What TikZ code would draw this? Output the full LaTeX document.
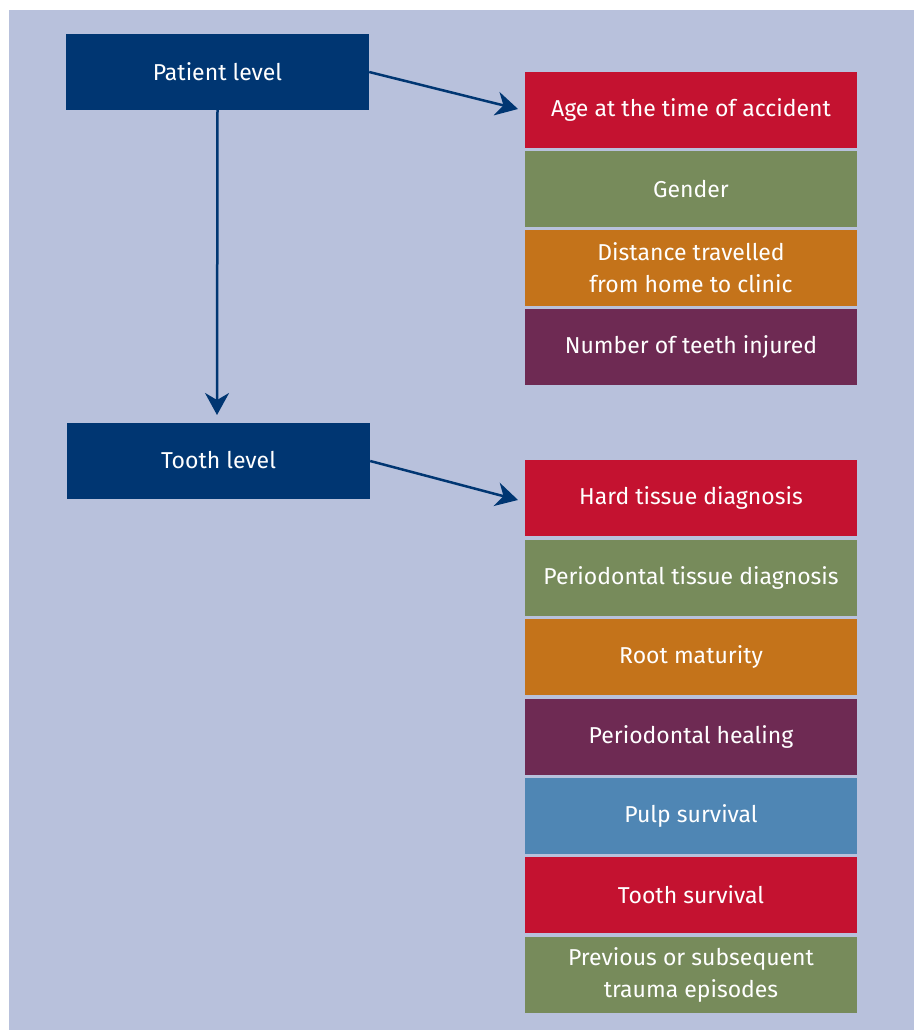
\documentclass[tikz,border=0pt]{standalone}
\usepackage{fontspec}
\setmainfont{Fira Sans}
\usetikzlibrary{arrows.meta}
\definecolor{bgc}{HTML}{B8C1DC}
\definecolor{navy}{HTML}{003672}
\definecolor{cred}{HTML}{C41230}
\definecolor{cgreen}{HTML}{778B5B}
\definecolor{corange}{HTML}{C4731A}
\definecolor{cpurple}{HTML}{6E2A53}
\definecolor{cblue}{HTML}{4F86B4}
\begin{document}
\begin{tikzpicture}[x=1pt,y=-1pt,
  lvl/.style={fill=navy,text=white,minimum width=303pt,minimum height=76pt,inner sep=0pt,font=\fontsize{23}{30}\selectfont},
  item/.style={fill=#1,text=white,minimum width=332pt,minimum height=76pt,inner sep=0pt,align=center,font=\fontsize{23}{32}\selectfont},
  conn/.style={draw=navy,line width=2.5pt,-{Stealth[length=22pt,width=24pt,inset=7pt]}}]
\useasboundingbox (0,0) rectangle (918,1030);
\fill[white] (0,0) rectangle (918,1030);
\fill[bgc] (9,10) rectangle (914,1030);
\node[lvl] (patient) at (217.5,72) {Patient level};
\node[lvl] (tooth) at (218.5,460.5) {Tooth level};
\node[item=cred] (age) at (691,110) {Age at the time of accident};
\node[item=cgreen] (gender) at (691,189) {Gender};
\node[item=corange] (dist) at (691,268) {Distance travelled\\ from home to clinic};
\node[item=cpurple] (num) at (691,347) {Number of teeth injured};
\node[item=cred] (hard) at (691,498) {Hard tissue diagnosis};
\node[item=cgreen] (perio) at (691,578) {Periodontal tissue diagnosis};
\node[item=corange] (root) at (691,657) {Root maturity};
\node[item=cpurple] (heal) at (691,737) {Periodontal healing};
\node[item=cblue] (pulp) at (691,816) {Pulp survival};
\node[item=cred] (surv) at (691,895) {Tooth survival};
\node[item=cgreen] (prev) at (691,975) {Previous or subsequent\\ trauma episodes};
\coordinate (a1) at (518,109);
\coordinate (a2) at (518,500);
\coordinate (a3) at (217,415);
\draw[conn] (patient.east |- 0,72) -- (a1);
\draw[conn] (tooth.east |- 0,461) -- (a2);
\draw[conn] (patient.south) -- (a3);
\end{tikzpicture}
\end{document}
